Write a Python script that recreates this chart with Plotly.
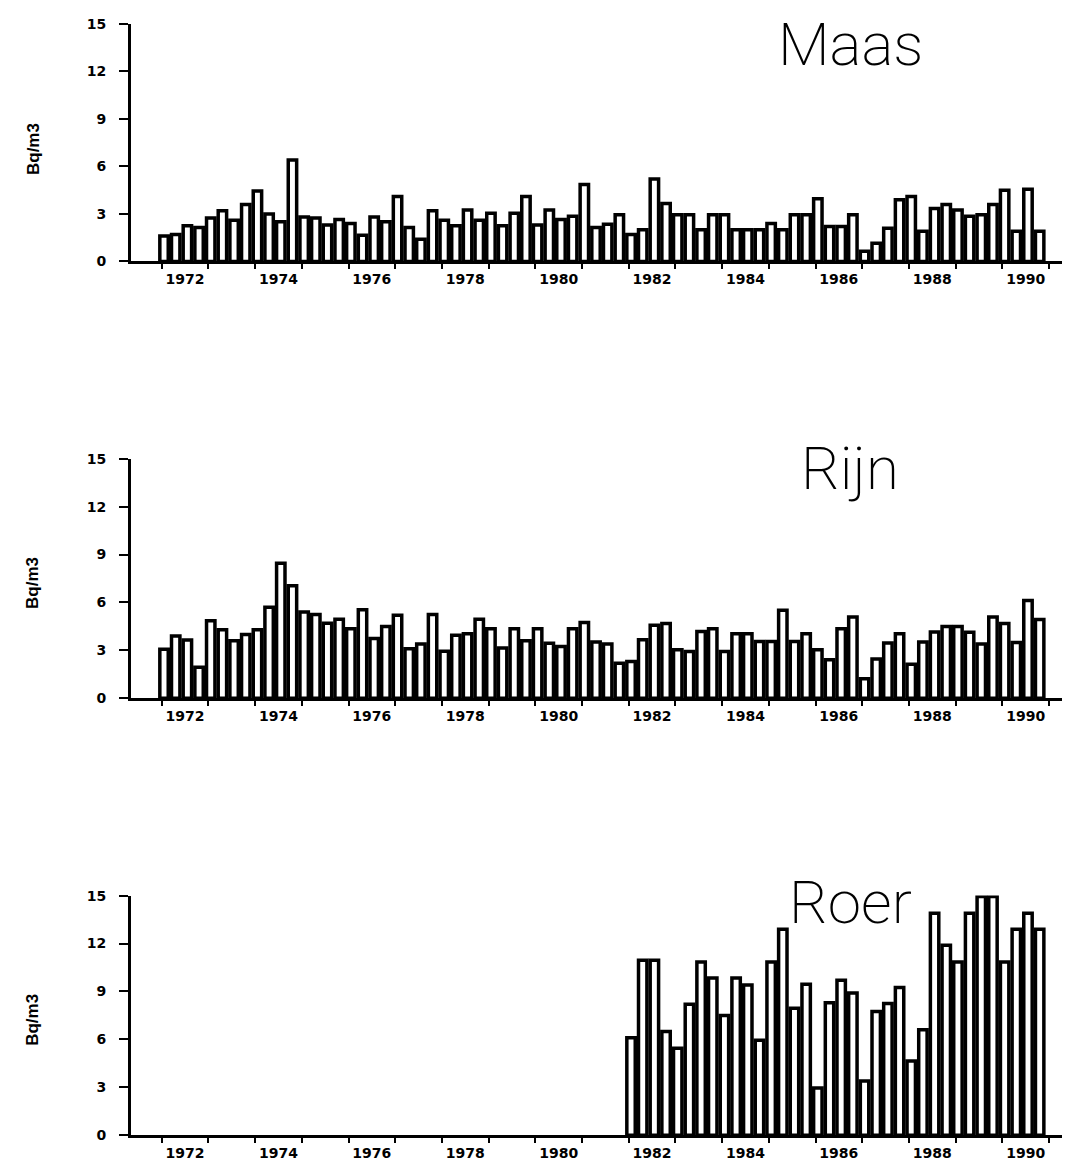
import plotly.graph_objects as go

# ---------------- data (quarterly values, Bq/m3) ----------------
years = list(range(1972, 1991))
quarters = [1, 2, 3, 4]

maas = [1.6, 1.7, 2.25, 2.15,
        2.75, 3.2, 2.6, 3.6,
        4.45, 3.0, 2.5, 6.4,
        2.8, 2.75, 2.3, 2.65,
        2.4, 1.65, 2.8, 2.5,
        4.1, 2.15, 1.4, 3.2,
        2.6, 2.25, 3.25, 2.6,
        3.05, 2.25, 3.05, 4.1,
        2.3, 3.25, 2.65, 2.85,
        4.85, 2.15, 2.35, 2.95,
        1.7, 2.0, 5.2, 3.65,
        2.95, 2.95, 2.0, 2.95,
        2.95, 2.0, 2.0, 2.0,
        2.4, 2.0, 2.95, 2.95,
        3.95, 2.2, 2.2, 2.95,
        0.65, 1.15, 2.1, 3.9,
        4.1, 1.9, 3.35, 3.6,
        3.25, 2.85, 2.95, 3.6,
        4.5, 1.9, 4.55, 1.9]

rijn = [3.08, 3.9, 3.65, 1.95,
        4.85, 4.3, 3.6, 4.0,
        4.3, 5.7, 8.45, 7.05,
        5.4, 5.25, 4.7, 4.95,
        4.35, 5.55, 3.75, 4.5,
        5.2, 3.1, 3.4, 5.25,
        2.95, 3.95, 4.05, 4.95,
        4.35, 3.15, 4.35, 3.6,
        4.35, 3.45, 3.25, 4.35,
        4.75, 3.52, 3.4, 2.2,
        2.3, 3.67, 4.57, 4.68,
        3.04, 2.93, 4.19, 4.36,
        2.93, 4.05, 4.05, 3.56,
        3.56, 5.51, 3.56, 4.05,
        3.04, 2.41, 4.36, 5.09,
        1.22, 2.47, 3.46, 4.05,
        2.14, 3.52, 4.15, 4.5,
        4.5, 4.13, 3.4, 5.09,
        4.68, 3.5, 6.12, 4.93]

roer_years = list(range(1982, 1991))
roer = [6.1, 10.95, 10.95, 6.5,
        5.45, 8.2, 10.85, 9.85,
        7.5, 9.85, 9.4, 5.95,
        10.85, 12.9, 7.95, 9.45,
        2.95, 8.3, 9.7, 8.9,
        3.4, 7.75, 8.25, 9.25,
        4.65, 6.6, 13.9, 11.9,
        10.85, 13.9, 14.95, 14.95,
        10.85, 12.9, 13.9, 12.9]

panel_titles = ["Maas", "Rijn", "Roer"]
y_ticks = [0, 3, 6, 9, 12, 15]
x_label_years = [1972, 1974, 1976, 1978, 1980, 1982, 1984, 1986, 1988, 1990]
y_title = "Bq/m3"

# ---------------- helpers ----------------
W, H = 1067, 1161            # the figure is pinned to the top-left of the page


def px(p):                   # page pixel -> paper x
    return min(1.0, max(0.0, p / W))


def py(p):                   # page pixel -> paper y
    return min(1.0, max(0.0, 1 - p / H))


def qx(yrs):
    return [y + (q - 1) * 0.25 + 0.05 for y in yrs for q in quarters]


series = [(years, maas), (years, rijn), (roer_years, roer)]
panels = [(16, 257), (457, 700), (900, 1143)]   # (top, bottom) figure pixels
title_y = [0, 467, 907]
title_anchor = ["top", "middle", "middle"]
ylab_y = [143, 583, 1026]

# x scale: year 1972 starts at pixel 161.7, 46.7 px per year
AX_L, AX_R = 131, 1062
X0_PIX, PX_PER_YEAR = 161.7, 46.7
x_range = [1972 + (AX_L - X0_PIX) / PX_PER_YEAR, 1972 + (AX_R - X0_PIX) / PX_PER_YEAR]
tick_font = dict(family="DejaVu Sans", size=14, color="black", weight="bold")

fig = go.Figure()
layout = dict(
    width=W, height=H,
    margin=dict(l=0, r=0, t=0, b=0),
    paper_bgcolor="white", plot_bgcolor="white",
    showlegend=False,
    bargap=0,
    annotations=[],
)

for i, ((yrs, vals), (top, bot)) in enumerate(zip(series, panels)):
    n = "" if i == 0 else str(i + 1)
    fig.add_trace(go.Bar(
        x=qx(yrs), y=vals, width=0.18,
        marker=dict(color="white", line=dict(color="black", width=3.5)),
        xaxis="x" + n, yaxis="y" + n, hoverinfo="skip",
    ))
    layout["xaxis" + n] = dict(
        domain=[px(AX_L), px(AX_R)], range=x_range, anchor="y" + n,
        showgrid=False, zeroline=False,
        showline=True, linecolor="black", linewidth=3,
        tickmode="array",
        tickvals=[y + 0.5 for y in x_label_years],
        ticktext=[str(y) for y in x_label_years],
        ticks="outside", ticklen=0, tickfont=tick_font,
        ticklabelstandoff=3,
        minor=dict(tickmode="linear", tick0=1972, dtick=1,
                   ticks="outside", ticklen=5, tickwidth=2, tickcolor="black"),
    )
    layout["yaxis" + n] = dict(
        domain=[py(bot), py(top)], range=[0, 15], anchor="x" + n,
        showgrid=False, zeroline=False,
        showline=True, linecolor="black", linewidth=3,
        tickmode="array", tickvals=y_ticks, ticktext=[str(v) for v in y_ticks],
        ticks="outside", ticklen=9, tickwidth=2, tickcolor="black",
        tickfont=tick_font, ticklabelstandoff=10,
    )
    layout["annotations"].append(dict(
        text=panel_titles[i], xref="paper", yref="paper",
        x=px(850), y=py(title_y[i]), xanchor="center", yanchor=title_anchor[i],
        showarrow=False, borderpad=0,
        font=dict(family="Roboto", size=60, color="black", weight=200),
    ))
    layout["annotations"].append(dict(
        text=y_title, xref="paper", yref="paper",
        x=px(33), y=py(ylab_y[i]), xanchor="center", yanchor="middle",
        textangle=-90, showarrow=False,
        font=dict(family="Liberation Sans Narrow, Liberation Sans", size=17,
                  color="black", weight="bold"),
    ))

fig.update_layout(**layout)

# pin the figure to the page origin so page pixels equal figure pixels
pin = ("document.documentElement.style.margin='0';"
       "document.body.style.margin='0';"
       "var d=document.getElementById('{plot_id}');"
       "d.style.position='fixed';d.style.top='0px';d.style.left='0px';")
fig.write_html("out.html", post_script=pin,
               config={"displayModeBar": False, "staticPlot": True})
